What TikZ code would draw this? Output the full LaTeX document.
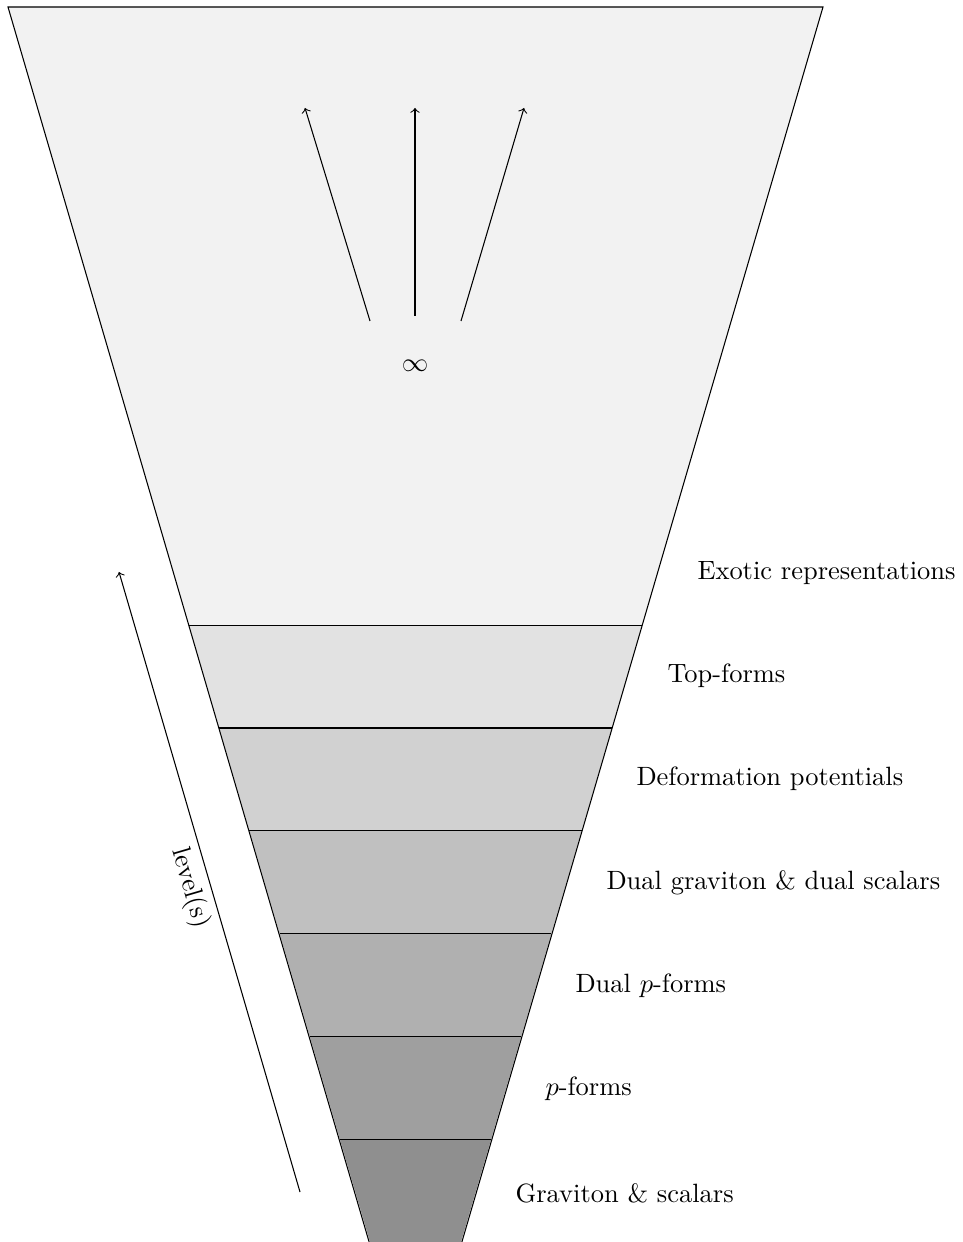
\documentclass[tikz,border=0pt]{standalone}
\begin{document}
\begin{tikzpicture}[x=0.378pt,y=0.378pt,line width=0.4pt,
    font=\normalsize,
    levelname/.style={anchor=west,inner sep=0pt}]
    \path[use as bounding box] (0,0) rectangle (963,1242);
    % funnel, from the bottom band up
    \foreach \i/\tone in {0/44,1/37.6,2/31,3/24.7,4/18,5/11.4} {
      \pgfmathsetmacro{\ya}{\i==0 ? -3 : \i*102.8}
      \pgfmathsetmacro{\yb}{(\i+1)*102.8}
      \fill[black!\tone] ({370-0.2931*\ya},\ya) -- ({461+0.2931*\ya},\ya)
        -- ({461+0.2931*\yb},\yb) -- ({370-0.2931*\yb},\yb) -- cycle;
    }
    \fill[black!5] (189.2,616.8) -- (641.8,616.8) -- (823,1235) -- (8,1235) -- cycle;
    \foreach \i in {1,...,6} {
      \pgfmathsetmacro{\yb}{\i*102.8}
      \draw ({370-0.2931*\yb},\yb) -- ({461+0.2931*\yb},\yb);
    }
    \draw (370,-3) -- (8,1235) -- (823,1235) -- (461,-3);
    % open end
    \node (inf) at (415,876) {\(\infty\)};
    \coordinate (fanl) at (370,921);
    \coordinate (fanc) at (415,926);
    \coordinate (fanr) at (461,921);
    \coordinate (tipl) at (305,1134);
    \coordinate (tipc) at (415,1134);
    \coordinate (tipr) at (524,1134);
    \draw[->] (fanl) -- (tipl);
    \draw[->] (fanc) -- (tipc);
    \draw[->] (fanr) -- (tipr);
    % level axis
    \coordinate (lvlstart) at (300,50);
    \coordinate (lvlend) at (119,670);
    \draw[->] (lvlstart) -- (lvlend);
    \node[rotate=-73.7] (lvl) at (190,354) {level(s)};
    % names of the bands
    \node[levelname] (exotic) at (697,669) {Exotic representations};
    \node[levelname] (top) at (667,566) {Top-forms};
    \node[levelname] (deform) at (636,463) {Deformation potentials};
    \node[levelname] (dualgrav) at (606,359) {Dual graviton \& dual scalars};
    \node[levelname] (dualp) at (575,256) {Dual \(p\)-forms};
    \node[levelname] (pforms) at (545,153) {\(p\)-forms};
    \node[levelname] (grav) at (515,49) {Graviton \& scalars};
\end{tikzpicture}
\end{document}
